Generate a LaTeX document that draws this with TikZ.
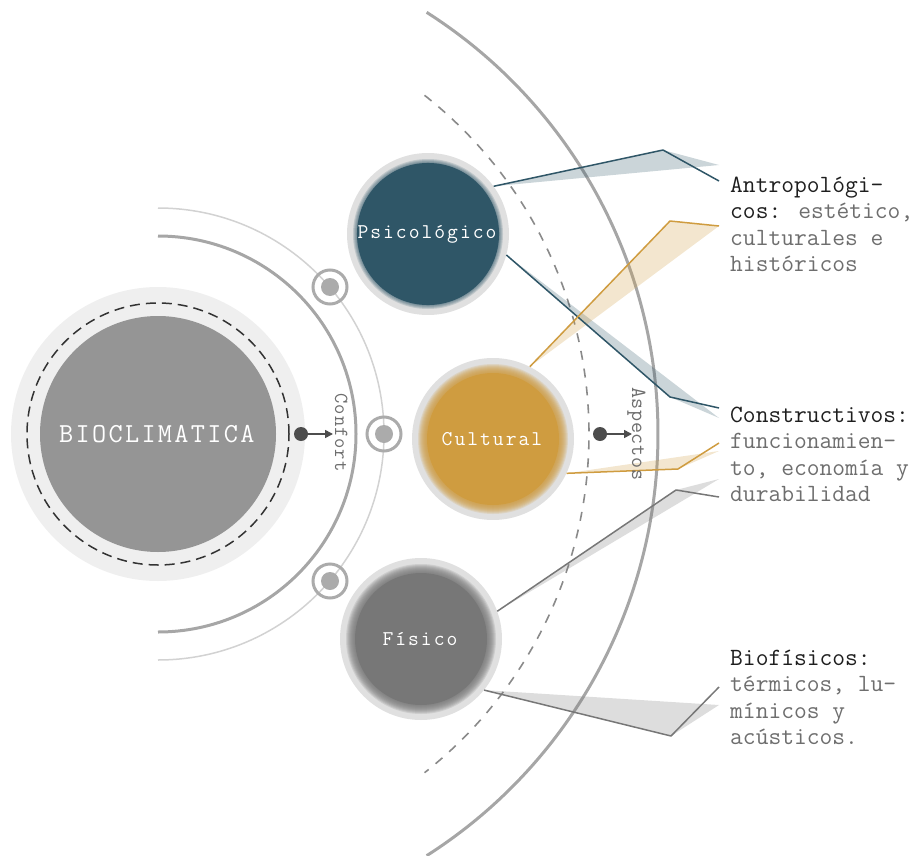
\documentclass[tikz,border=0pt]{standalone}
\usepackage{fontspec}
\usepackage{tikz}
\usetikzlibrary{arrows.meta}

\definecolor{psicolor}{HTML}{2F5667}
\definecolor{culcolor}{HTML}{CF9C40}
\definecolor{fiscolor}{HTML}{777777}
\definecolor{biocolor}{HTML}{959595}
\definecolor{biohalo}{HTML}{EFEFEF}
\definecolor{ringgray}{HTML}{E0E0E0}
\definecolor{ringline}{HTML}{ABABAB}
\definecolor{arcgray}{HTML}{A6A6A6}
\definecolor{thingray}{HTML}{D2D2D2}
\definecolor{dashgray}{HTML}{8A8A8A}
\definecolor{dotgray}{HTML}{4D4D4D}
\definecolor{darktext}{HTML}{1E1E1E}
\definecolor{softtext}{HTML}{6E6E6E}

\newcommand\spaced[2]{\def\spacedkern{#1}\spacedloop#2\relax}
\def\spacedloop#1{\ifx#1\relax\else#1\kern\spacedkern\expandafter\spacedloop\fi}

\tikzset{
	halo/.style={circle, fill=ringgray, inner sep=0pt, minimum size=162pt},
	core/.style={circle, fill=#1, inner sep=0pt, minimum size=132pt, text=white, font=\ttfamily\fontsize{21}{24}\selectfont},
	smallring/.style={circle, draw=ringline, line width=3pt, inner sep=0pt, minimum size=34pt},
	smalldot/.style={circle, fill=ringline, inner sep=0pt, minimum size=18pt},
	bigdot/.style={circle, fill=dotgray, inner sep=0pt, minimum size=14pt},
	pointer/.style={-{Triangle[length=8pt, width=8pt]}, draw=dotgray, line width=1.6pt},
	callout/.style={draw=#1, line width=1.5pt, line join=round},
	wedge/.style={fill=#1, opacity=0.25},
	note/.style={align=left, inner sep=0pt, text=softtext, font=\ttfamily\fontsize{24.8}{26.5}\selectfont},
	vlabel/.style={rotate=-90, inner sep=0pt, text=softtext, font=\ttfamily\fontsize{#1}{24}\selectfont},
}

\begin{document}
\begin{tikzpicture}[x=1pt, y=1pt]
	\useasboundingbox (0, 0) rectangle (915, -856);
	\node[circle, fill=biohalo, inner sep=0pt, minimum size=294pt] (bio)at(158, -434) {};
	\draw[line width=3pt, arcgray] (bio.center) ++(57.5:500) arc[start angle=57.5, end angle=-57.5, radius=500];
	\draw[line width=1.6pt, dashgray, dash pattern=on 9pt off 9pt] (bio.center) ++(51.8:431) arc[start angle=51.8, end angle=-51.8, radius=431];
	\draw[line width=1.5pt, thingray] (bio.center) ++(90:226) arc[start angle=90, end angle=-90, radius=226];
	\draw[line width=3pt, arcgray] (bio.center) ++(90:198) arc[start angle=90, end angle=-90, radius=198];
	\draw[line width=1.5pt, black!80, dash pattern=on 10pt off 6pt] (bio.center) circle (131pt);
	\node[circle, fill=biocolor, inner sep=0pt, minimum size=236pt, text=white, font=\ttfamily\fontsize{27.5}{30}\selectfont] (bio-core)at(bio) {\spaced{2.3pt}{BIOCLIMATICA}};

	\node[smallring] (r1)at(330, -287) {};
	\node[smallring] (r2)at(384, -434) {};
	\node[smallring] (r3)at(330, -581) {};
	\node[smalldot] (r1-dot)at(r1) {};
	\node[smalldot] (r2-dot)at(r2) {};
	\node[smalldot] (r3-dot)at(r3) {};

	\node[bigdot] (d1)at(301, -434) {};
	\node[vlabel=20, anchor=base] (confort)at(335, -433) {\spaced{1pt}{Confort}};
	\draw[pointer, shorten >=2pt] (d1) -- (d1 -| confort.base);

	\node[halo] (psi)at(428, -234) {};
	\node[halo] (cul)at(493, -439) {};
	\node[halo] (fis)at(421, -639) {};

	\node[note, anchor=base west] (antro)at(730, -271.5) {\textcolor{darktext}{Antropológi-}\\\textcolor{darktext}{cos:} estético,\\culturales e\\históricos};
	\node[note, anchor=base west] (constr)at(730, -501.5) {\textcolor{darktext}{Constructivos:}\\funcionamien-\\to, economía y\\durabilidad};
	\node[note, anchor=base west] (biof)at(730, -744.5) {\textcolor{darktext}{Biofísicos:}\\térmicos, lu-\\mínicos y\\acústicos.};
	\coordinate (antro-a) at (719, -181);
	\coordinate (antro-b) at (719, -226);
	\coordinate (constr-a) at (719, -408);
	\coordinate (constr-b) at (719, -443);
	\coordinate (constr-c) at (719, -497);
	\coordinate (biof-a) at (719, -687);

	\fill[wedge=psicolor] (psi.36) -- (663, -150) -- (719, -165) -- cycle;
	\fill[wedge=psicolor] (psi.-15) -- (670, -397) -- (719, -418) -- cycle;
	\fill[wedge=culcolor] (cul.63) -- (670, -221) -- (719, -226) -- cycle;
	\fill[wedge=culcolor] (cul.-25) -- (678, -469) -- (719, -451) -- cycle;
	\fill[wedge=fiscolor] (fis.20) -- (676, -490) -- (719, -479) -- cycle;
	\fill[wedge=fiscolor] (fis.-39) -- (719, -705) -- (671, -736) -- cycle;
	\draw[callout=psicolor] (psi.36) -- (663, -150) -- (antro-a);
	\draw[callout=psicolor] (psi.-15) -- (670, -397) -- (constr-a);
	\draw[callout=culcolor] (cul.63) -- (670, -221) -- (antro-b);
	\draw[callout=culcolor] (cul.-25) -- (678, -469) -- (constr-b);
	\draw[callout=fiscolor] (fis.20) -- (676, -490) -- (constr-c);
	\draw[callout=fiscolor] (fis.-39) -- (671, -736) -- (biof-a);

	\foreach \r in {75,74,...,67} \fill[psicolor, opacity=0.18] (psi.center) circle (\r pt);
	\foreach \r in {75,74,...,67} \fill[culcolor, opacity=0.18] (cul.center) circle (\r pt);
	\foreach \r in {75,74,...,67} \fill[fiscolor, opacity=0.18] (fis.center) circle (\r pt);
	\node[core=psicolor] (psi-core)at(psi) {\spaced{2pt}{Psicológico}};
	\node[core=culcolor] (cul-core)at(cul) {\spaced{2pt}{Cultural}};
	\node[core=fiscolor] (fis-core)at(fis) {\spaced{2pt}{Físico}};

	\node[bigdot] (d2)at(600, -434) {};
	\node[vlabel=21.5, anchor=base] (aspectos)at(632, -434) {\spaced{0.6pt}{Aspectos}};
	\draw[pointer] (d2) -- (d2 -| aspectos.base);
\end{tikzpicture}
\end{document}
